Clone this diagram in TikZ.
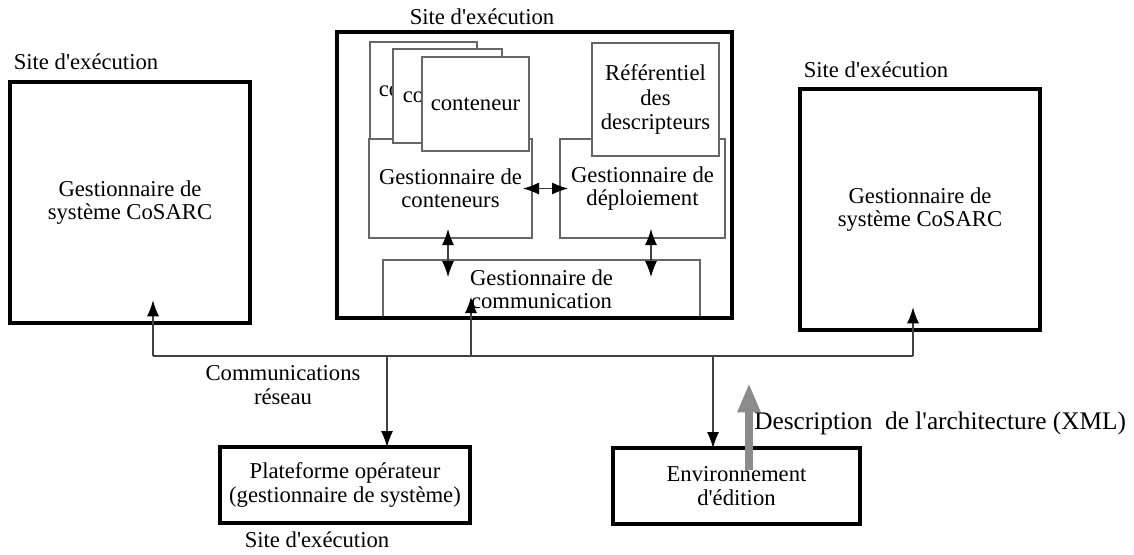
\documentclass[tikz,border=0pt]{standalone}
\usepackage{fontspec}
\setmainfont{Liberation Serif}[Ligatures=TeXOff]
\usetikzlibrary{arrows.meta,calc}
\tikzset{
  >={Latex[length=12pt,width=9pt,color=black]},
  site/.style={draw,line width=3pt,inner sep=0pt,outer sep=0pt,align=center},
  part/.style={draw=black!60,line width=0.8pt,fill=white,inner sep=0pt,outer sep=0pt,align=center},
  link/.style={draw=black!75,line width=0.8pt},
  xmlflow/.style={draw=black!45,line width=6pt,-{Triangle[length=22pt,width=16pt]}},
  sitename/.style={inner sep=0pt}
}

\begin{document}
\begin{tikzpicture}[x=0.75pt,y=-0.75pt,font=\fontsize{17}{17.5}\selectfont]
    \useasboundingbox (0,0) rectangle (1134,554);

    % the two remote sites
    \node[site,minimum width=180pt,minimum height=180.75pt] (lsys) at (130,202.5) {Gestionnaire de\\système CoSARC};
    \node[site,minimum width=180pt,minimum height=180.75pt] (rsys) at (920,209.5) {Gestionnaire de\\système CoSARC};
    \node[sitename] (lsite) at (86,62) {Site d'exécution};
    \node[sitename] (rsite) at (876,70) {Site d'exécution};

    % the central site and its managers
    \node[part,minimum width=237.75pt,minimum height=43.5pt] (comm) at (541.5,289) {Gestionnaire de\\communication};
    \node[part,minimum width=122.25pt,minimum height=74.25pt] (gc) at (450.5,188.5) {Gestionnaire de\\conteneurs};
    \node[part,minimum width=80.25pt,minimum height=72.75pt] (ct1) at (423.5,90.5) {conteneur};
    \node[part,minimum width=81.75pt,minimum height=70.5pt] (ct2) at (447.5,96) {conteneur};
    \node[part,minimum width=80.25pt,minimum height=70.5pt] (ct3) at (475.5,104) {conteneur};
    \node[part,minimum width=123.75pt,minimum height=74.25pt] (gd) at (642.5,188.5) {Gestionnaire de\\déploiement};
    \node[part,minimum width=95.25pt,minimum height=84.75pt,font=\fontsize{17}{18.4}\selectfont] (ref) at (655.5,99.5) {Référentiel\\des\\descripteurs};
    \node[site,minimum width=296.25pt,minimum height=214.5pt] (sitec) at (534.5,175) {};
    \node[sitename] (csite) at (482,17) {Site d'exécution};

    \coordinate (upL) at ($(gc.south)+(-2.5,0)$);
    \coordinate (upR) at ($(gd.south)+(8.5,0)$);
    \draw[link,<->,shorten <=-6.75pt,shorten >=-6pt] (gc.east) -- (gd.west);
    \draw[link,<->,shorten <=-6.75pt,shorten >=-12.75pt] (upL) -- (upL |- comm.north);
    \draw[link,<->,shorten <=-6.75pt,shorten >=-12.75pt] (upR) -- (upR |- comm.north);

    % operator platform and editor
    \node[site,minimum width=187.5pt,minimum height=57pt] (plat) at (345,485) {Plateforme opérateur\\(gestionnaire de système)};
    \node[sitename] (psite) at (317,540) {Site d'exécution};
    \node[site,minimum width=185.25pt,minimum height=57pt] (env) at (736.5,486) {Environnement\\d'édition};

    % network
    \coordinate (tapL) at (153,356);
    \coordinate (tapP) at (387,356);
    \coordinate (tapC) at (471,356);
    \coordinate (tapE) at (713,356);
    \coordinate (tapR) at (913,356);
    \draw[link] (tapL) -- (tapR);
    \draw[link,->,shorten >=-17pt] (tapL) -- (lsys.south -| tapL);
    \draw[link,->,shorten >=-17pt] (tapR) -- (rsys.south -| tapR);
    \draw[link,->,shorten >=-15.75pt] (tapC) -- (comm.south -| tapC);
    \draw[link,->] (tapP) -- (plat.north -| tapP);
    \draw[link,->] (tapE) -- (env.north -| tapE);
    \node[align=center] (net) at (283,385) {Communications\\réseau};

    % architecture description sent by the editor
    \coordinate (xmltop) at (749,383);
    \draw[xmlflow] ($(env.north)+(12.5,22)$) -- (xmltop);
    \node[anchor=west,inner sep=0pt,font=\fontsize{19}{22}\selectfont] (xmldesc) at (754,423) {Description~ de l'architecture (XML)};
\end{tikzpicture}
\end{document}
